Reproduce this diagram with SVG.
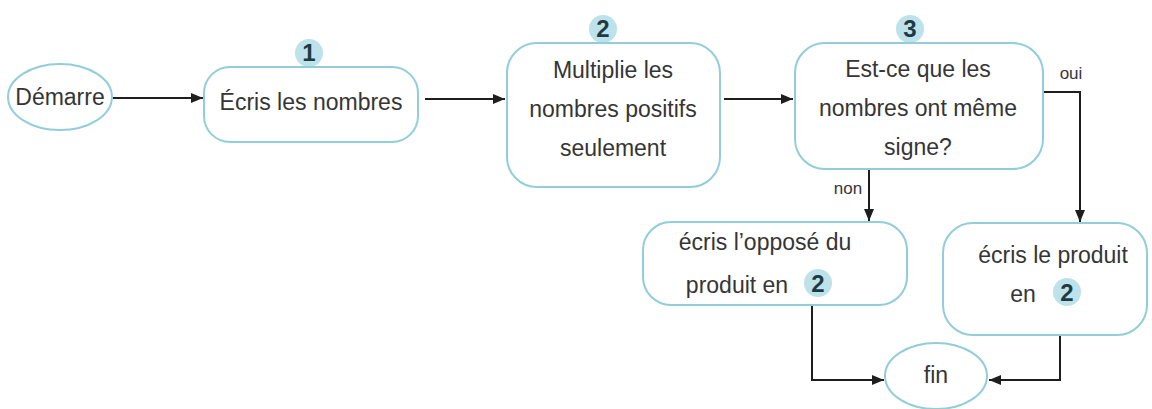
<svg xmlns="http://www.w3.org/2000/svg" width="1152" height="409" viewBox="0 0 1152 409">
  <style>
    .node { fill: #ffffff; stroke: #92cdda; stroke-width: 2; }
    .txt { font-family: "Liberation Sans", Arial, sans-serif; font-size: 23px; fill: #353535; text-anchor: middle; }
    .lbl { font-family: "Liberation Sans", Arial, sans-serif; font-size: 17px; fill: #353535; text-anchor: middle; }
    .badge { fill: #bde2ea; }
    .num { font-family: "Liberation Sans", Arial, sans-serif; font-size: 24px; font-weight: bold; fill: #1c3b45; text-anchor: middle; }
    .wire { fill: none; stroke: #1e1e1e; stroke-width: 2; }
  </style>
  <defs>
    <marker id="arrow" viewBox="0 0 12 10" refX="12" refY="5" markerWidth="12" markerHeight="10" markerUnits="userSpaceOnUse" orient="auto">
      <path d="M0,0 L12,5 L0,10 z" fill="#1e1e1e"/>
    </marker>
  </defs>
  <rect width="1152" height="409" fill="#ffffff"/>

  <!-- connectors -->
  <g id="connectors">
    <line class="wire" x1="113" y1="98" x2="203" y2="98" marker-end="url(#arrow)"/>
    <line class="wire" x1="425" y1="99" x2="505" y2="99" marker-end="url(#arrow)"/>
    <line class="wire" x1="724" y1="99" x2="793" y2="99" marker-end="url(#arrow)"/>
    <polyline class="wire" points="1043,92 1080,92 1080,222" marker-end="url(#arrow)"/>
    <text class="lbl" x="1071" y="79">oui</text>
    <line class="wire" x1="869" y1="169" x2="869" y2="221" marker-end="url(#arrow)"/>
    <text class="lbl" x="848" y="194">non</text>
    <polyline class="wire" points="812,305 812,380 884,380" marker-end="url(#arrow)"/>
    <polyline class="wire" points="1060,335 1060,380 989,380" marker-end="url(#arrow)"/>
  </g>

  <!-- start -->
  <g id="start">
    <ellipse class="node" cx="60" cy="97" rx="52" ry="33"/>
    <text class="txt" x="60" y="105">Démarre</text>
  </g>

  <!-- step 1 -->
  <g id="step1">
    <circle class="badge" cx="309" cy="53" r="14"/>
    <text class="num" x="309" y="61">1</text>
    <rect class="node" x="204" y="67" width="214" height="75" rx="26"/>
    <text class="txt" x="311" y="110">Écris les nombres</text>
  </g>

  <!-- step 2 -->
  <g id="step2">
    <circle class="badge" cx="603" cy="29" r="14"/>
    <text class="num" x="603" y="37">2</text>
    <rect class="node" x="507" y="43" width="213" height="144" rx="30"/>
    <text class="txt" x="613" y="78">Multiplie les</text>
    <text class="txt" x="613" y="117">nombres positifs</text>
    <text class="txt" x="613" y="156">seulement</text>
  </g>

  <!-- step 3 -->
  <g id="step3">
    <circle class="badge" cx="910" cy="29" r="14"/>
    <text class="num" x="910" y="37">3</text>
    <rect class="node" x="795" y="43" width="248" height="126" rx="30"/>
    <text class="txt" x="918" y="77">Est-ce que les</text>
    <text class="txt" x="918" y="116">nombres ont même</text>
    <text class="txt" x="918" y="155">signe?</text>
  </g>

  <!-- negative product -->
  <g id="opposite">
    <rect class="node" x="643" y="222" width="264" height="83" rx="28"/>
    <text class="txt" x="765" y="250">écris l’opposé du</text>
    <text class="txt" x="737" y="293">produit en</text>
    <circle class="badge" cx="818" cy="283" r="14"/>
    <text class="num" x="818" y="292">2</text>
  </g>

  <!-- product -->
  <g id="product">
    <rect class="node" x="943" y="223" width="204" height="112" rx="30"/>
    <text class="txt" x="1053" y="263">écris le produit</text>
    <text class="txt" x="1023" y="302">en</text>
    <circle class="badge" cx="1067" cy="292" r="14"/>
    <text class="num" x="1067" y="301">2</text>
  </g>

  <!-- end -->
  <g id="end">
    <ellipse class="node" cx="936" cy="376" rx="51" ry="33"/>
    <text class="txt" x="936" y="383">fin</text>
  </g>
</svg>
